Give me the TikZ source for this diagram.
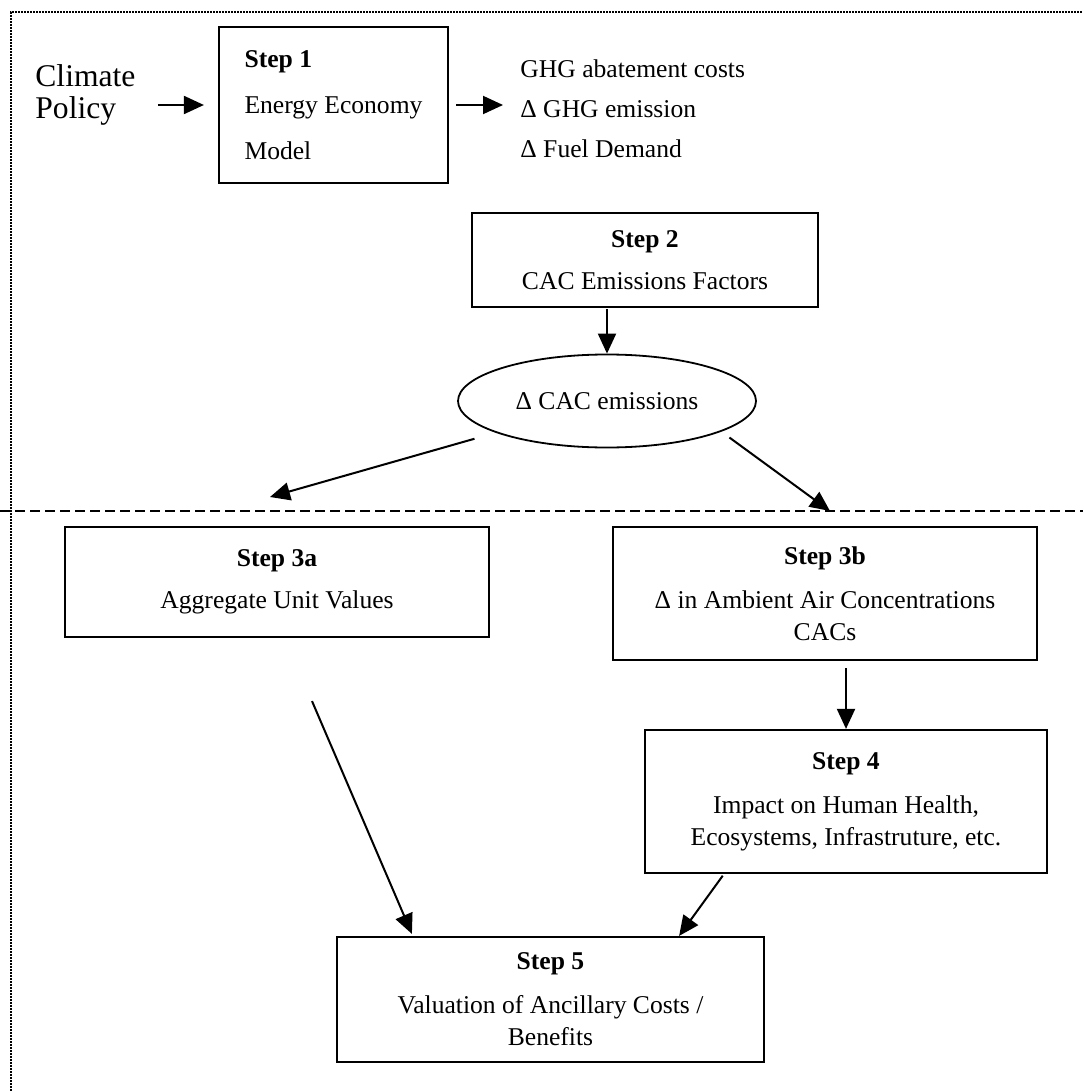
\documentclass[tikz,border=0pt]{standalone}
\usepackage{fontspec}
\setmainfont{Liberation Serif}
\usetikzlibrary{arrows.meta}
\usetikzlibrary{positioning}
\usetikzlibrary{shapes.geometric}

\tikzset{
  stepbox/.style={draw,line width=1.1pt,align=center,inner sep=0pt,font=\fontsize{12.8}{16}\selectfont},
  cacnode/.style={draw,ellipse,line width=0.9pt,inner sep=0pt,minimum width=149pt,minimum height=46.5pt,font=\fontsize{12.8}{16}\selectfont},
  flow/.style={-{Triangle[length=10pt,width=9pt]},line width=1pt},
  frame/.style={line width=1.1pt,dash pattern=on 1pt off 0.5pt},
  sepline/.style={line width=0.8pt,dash pattern=on 5pt off 2.5pt}
}

\begin{document}
\begin{tikzpicture}[x=0.5pt,y=-0.5pt]
  \useasboundingbox (0,0) rectangle (1083,1091);
  \draw[frame](11,1091)--(11,12)--(1083,12);
  \draw[sepline](0,511)--(1083,511);

  \node (policy) at (35,95)[anchor=west,align=left,inner sep=0pt,font=\fontsize{15.8}{16}\selectfont]{Climate\\Policy};
  \node (step1) at (333.5,105)[stepbox,align=left,minimum width=114.5pt,minimum height=78pt]{\textbf{Step 1}\\[7pt]Energy Economy\\[7pt]Model};
  \node (ghg) at (520,109)[anchor=west,align=left,inner sep=0pt,font=\fontsize{12.8}{20}\selectfont]{GHG abatement costs\\Δ GHG emission\\Δ Fuel Demand};
  \node (step2) at (645,260)[stepbox,minimum width=173pt,minimum height=47pt]{\textbf{Step 2}\\[5pt]CAC Emissions Factors};
  \node (cac) at (607,401)[cacnode]{Δ CAC emissions};
  \node (step3a) at (277,582)[stepbox,minimum width=212pt,minimum height=55pt]{\textbf{Step 3a}\\[5pt]Aggregate Unit Values};
  \node (step3b) at (825,593.5)[stepbox,minimum width=212pt,minimum height=66.5pt]{\textbf{Step 3b}\\[6pt]Δ in Ambient Air Concentrations\\CACs};
  \node (step4) at (846,801.5)[stepbox,minimum width=201pt,minimum height=71.5pt]{\textbf{Step 4}\\[6pt]Impact on Human Health,\\Ecosystems, Infrastruture, etc.};
  \node (step5) at (550.5,999.5)[stepbox,minimum width=213.5pt,minimum height=62.5pt]{\textbf{Step 5}\\[6pt]Valuation of Ancillary Costs /\\Benefits};

  \coordinate (tipL) at (270,497);
  \coordinate (tipR) at (830,511);

  \draw[flow,shorten <=11pt,shorten >=7pt](policy.east |- step1.west)--(step1.west);
  \draw[flow,shorten <=3.5pt,shorten >=8.5pt](step1.east)--(step1.east -| ghg.west);
  \draw[flow,shorten <=0.5pt](cac.north |- step2.south)--(cac.north);
  \draw[flow,shorten <=11pt](cac)--(tipL);
  \draw[flow,shorten <=5pt](cac.-15)--(tipR);
  \draw[flow,shorten <=3.5pt](step4.north |- step3b.south)--(step4.north);
  \draw[flow]([xshift=17.5pt,yshift=-31.5pt]step3a.south)--([xshift=38pt,yshift=1pt]step5.north west);
  \draw[flow,shorten <=1pt]([xshift=40pt]step4.south west)--([xshift=-43pt]step5.north east);
  \end{tikzpicture}
\end{document}
